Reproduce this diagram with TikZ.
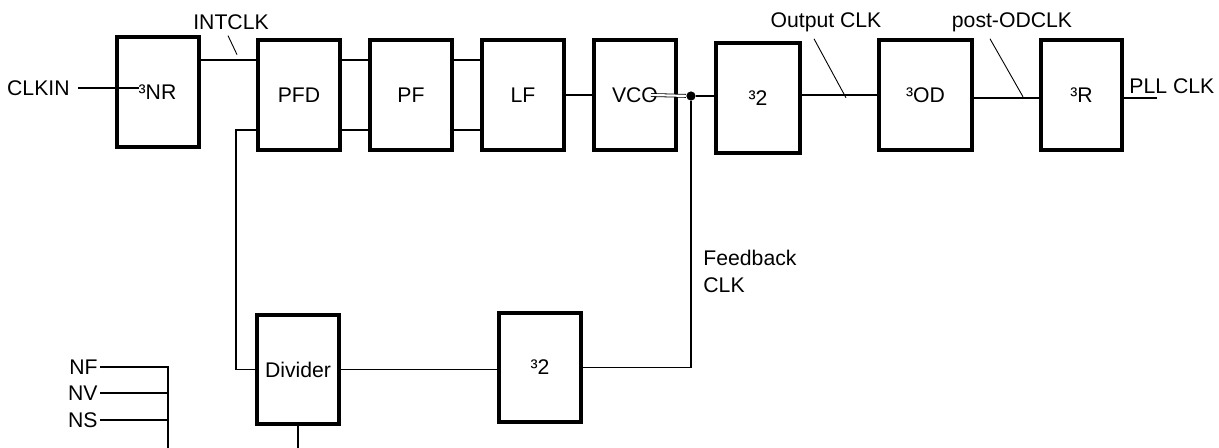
\documentclass[tikz,border=0pt]{standalone}
\usepackage{fontspec}
\setmainfont{Liberation Sans}
\usetikzlibrary{positioning}

\begin{document}
\begin{tikzpicture}[
    x=0.5pt, y=-0.5pt,
    font=\fontsize{10.6}{13.5}\selectfont,
    blk/.style={draw, line width=2pt, minimum width=41pt, minimum height=55pt, inner sep=0pt},
    wire/.style={line width=0.8pt},
    lead/.style={line width=0.45pt},
    lbl/.style={inner sep=1pt},
    tap/.style={circle, fill, inner sep=0pt, minimum size=4.6pt},
  ]
  \useasboundingbox (0,0) rectangle (1219,447);

  % forward path
  \node[blk] (nr) at (157.5,92) {³NR};
  \node[blk] (pfd) at (299,95) {PFD};
  \node[blk] (pf) at (411,95) {PF};
  \node[blk] (lf) at (523,95) {LF};
  \node[blk] (vco) at (635,95) {VCO};
  \node[blk, minimum width=42pt] (divtop) at (758,98) {³2};
  \node[blk, minimum width=46.5pt] (od) at (925.5,95) {³OD};
  \node[blk, minimum width=40.5pt] (r) at (1081.5,95) {³R};

  % feedback path
  \node[blk, minimum height=54.5pt] (divider) at (298,369.5) {Divider};
  \node[blk, minimum height=54.5pt] (divbot) at (540,367.5) {³2};
  \node[tap] (node) at (691,96) {};

  % labels
  \node[lbl, anchor=base east] (clkin) at (72,95) {CLKIN};
  \node[lbl, anchor=base] (intclk) at (231,29) {INTCLK};
  \node[lbl, anchor=base] (outclk) at (826,27) {Output CLK};
  \node[lbl, anchor=base] (postod) at (1012,27) {post-ODCLK};
  \node[lbl, anchor=base west] (pllclk) at (1127,93) {PLL CLK};
  \node[lbl, anchor=north west, align=left] (fbclk) at (701,248) {Feedback\\CLK};
  \node[lbl, anchor=base east] (nf) at (100,374) {NF};
  \node[lbl, anchor=base east] (nv) at (100,400) {NV};
  \node[lbl, anchor=base east] (ns) at (100,427) {NS};
  \coordinate (bus) at (168,365);
  \coordinate (busend) at (168,448);

  % connections
  \draw[wire] ([xshift=3pt]clkin.east) -- (clkin.east -| nr.text);
  \draw[wire] ([yshift=17.5pt]pfd.west) -- ([yshift=17.5pt]pfd.west -| nr.east);
  \draw[wire] ([yshift=17.5pt]pfd.east) -- ([yshift=17.5pt]pf.west);
  \draw[wire] ([yshift=-17.5pt]pfd.east) -- ([yshift=-17.5pt]pf.west);
  \draw[wire] ([yshift=17.5pt]pf.east) -- ([yshift=17.5pt]lf.west);
  \draw[wire] ([yshift=-17.5pt]pf.east) -- ([yshift=-17.5pt]lf.west);
  \draw[wire] (lf.east) -- (vco.west);
  \draw[line width=0.4pt, double, double distance=1.1pt] ([xshift=8pt]vco.center) -- (node);
  \draw[wire] (node) -- (node -| divtop.west);
  \draw[wire] (od.west -| divtop.east) -- (od.west);
  \draw[wire] ([yshift=-1.5pt]od.east) -- ([yshift=-1.5pt]r.west);
  \draw[wire] ([yshift=-1.5pt]r.east) -- ++(33,0);

  \draw[wire] (node) |- (divbot.east);
  \draw[wire] (divider.east) -- (divider.east -| divbot.west);
  \draw[wire] ([yshift=-17.5pt]pfd.west) -- ++(-20,0) |- (divider.west);
  \draw[wire] (divider.south) -- ++(0,22);

  \draw[wire] (nf.east) -- (nf.east -| bus) -- (busend);
  \draw[wire] (nv.east) -- (nv.east -| bus);
  \draw[wire] (ns.east) -- (ns.east -| bus);

  % leader lines
  \draw[lead] ([shift={(-3,4)}]intclk.south) -- ++(9,19);
  \draw[lead] ([shift={(-12,5)}]outclk.south) -- ++(32,59);
  \draw[lead] ([shift={(-22,5)}]postod.south) -- ++(33,58);
\end{tikzpicture}
\end{document}
